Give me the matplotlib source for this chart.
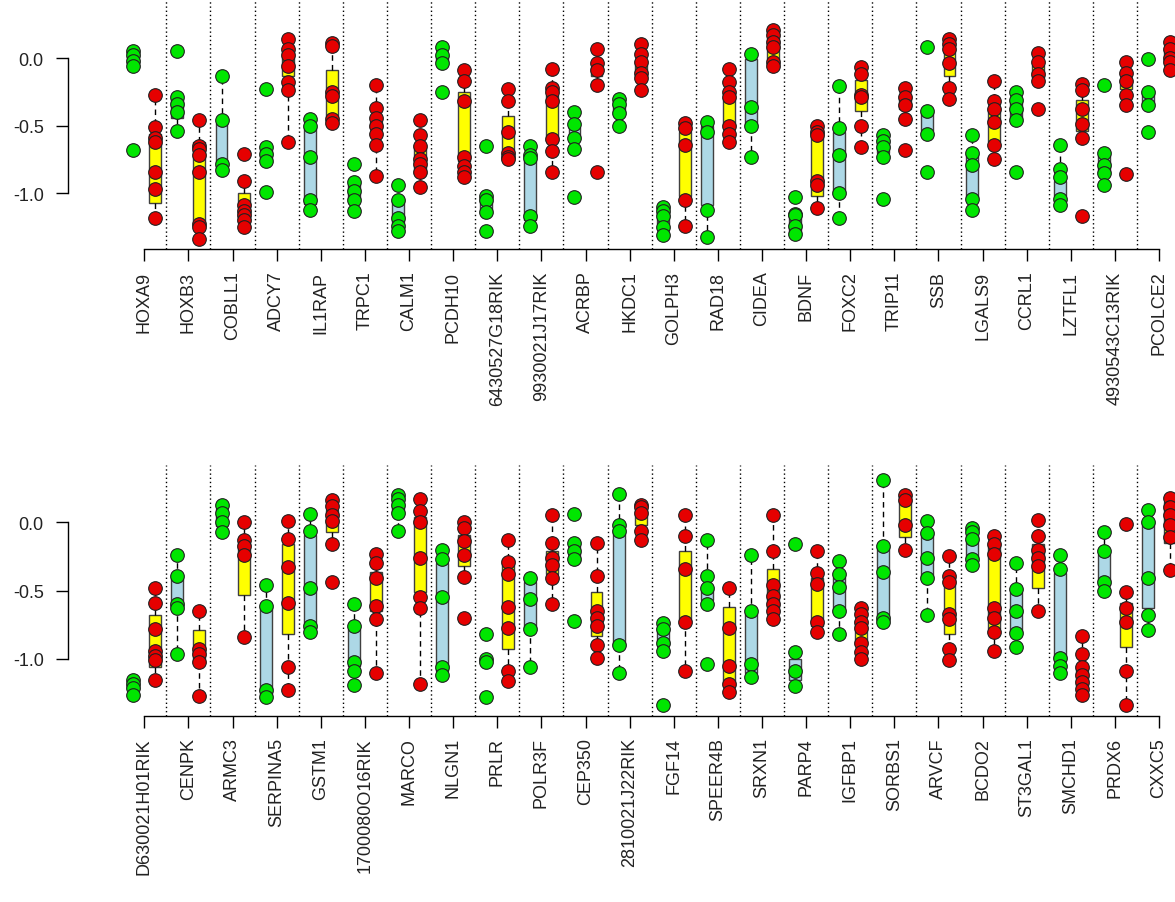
import matplotlib
matplotlib.use("Agg")
import matplotlib.pyplot as plt
import numpy as np

plt.rcParams['font.family'] = ['Liberation Sans', 'DejaVu Sans']

# ---------------- upper panel ----------------
genes_top = ["HOXA9", "HOXB3", "COBLL1", "ADCY7", "IL1RAP", "TRPC1", "CALM1", "PCDH10",
             "6430527G18RIK", "9930021J17RIK", "ACRBP", "HKDC1", "GOLPH3", "RAD18", "CIDEA",
             "BDNF", "FOXC2", "TRIP11", "SSB", "LGALS9", "CCRL1", "LZTFL1", "4930543C13RIK",
             "PCOLCE2"]

green_top = [
    [0.05, 0.02, -0.02, -0.06, -0.68],
    [0.05, -0.29, -0.34, -0.40, -0.54],
    [-0.13, -0.46, -0.78, -0.83],
    [-0.23, -0.66, -0.71, -0.76, -0.99],
    [-0.45, -0.50, -0.73, -1.05, -1.12],
    [-0.78, -0.92, -0.98, -1.05, -1.13],
    [-0.94, -1.05, -1.18, -1.24, -1.28],
    [0.08, 0.02, -0.04, -0.25],
    [-0.65, -1.02, -1.05, -1.14, -1.28],
    [-0.65, -0.72, -0.74, -1.17, -1.24],
    [-0.40, -0.49, -0.59, -0.67, -1.03],
    [-0.30, -0.34, -0.41, -0.50],
    [-1.10, -1.13, -1.17, -1.25, -1.31],
    [-0.47, -0.55, -1.12, -1.32],
    [0.03, -0.36, -0.50, -0.73],
    [-1.03, -1.15, -1.16, -1.24, -1.30],
    [-0.21, -0.52, -0.72, -1.00, -1.18],
    [-0.57, -0.61, -0.66, -0.73, -1.04],
    [0.08, -0.39, -0.56, -0.84],
    [-0.57, -0.70, -0.79, -1.04, -1.12],
    [-0.25, -0.31, -0.38, -0.46, -0.84],
    [-0.64, -0.82, -0.88, -1.04, -1.09],
    [-0.20, -0.70, -0.79, -0.85, -0.94],
    [-0.01, -0.25, -0.35, -0.55],
]
# (box low, box high, whisker low, whisker high)
green_top_box = [
    (-0.04, 0.02, -0.06, 0.05), (-0.44, -0.30, -0.54, -0.29), (-0.82, -0.48, -0.83, -0.13),
    (-0.75, -0.68, -0.76, -0.66), (-1.08, -0.50, -1.12, -0.45), (-1.04, -0.93, -1.05, -0.92),
    (-1.24, -1.05, -1.28, -0.94), (-0.03, 0.02, -0.04, 0.02), (-1.12, -1.03, -1.14, -1.02),
    (-1.20, -0.74, -1.24, -0.65), (-0.60, -0.51, -0.67, -0.40), (-0.40, -0.34, -0.41, -0.34),
    (-1.23, -1.14, -1.25, -1.13), (-1.09, -0.50, -1.32, -0.47), (-0.50, -0.01, -0.73, 0.03),
    (-1.29, -1.17, -1.30, -1.15), (-0.99, -0.55, -1.18, -0.21), (-0.70, -0.60, -0.73, -0.57),
    (-0.54, -0.40, -0.56, -0.39), (-1.03, -0.70, -1.12, -0.57), (-0.44, -0.31, -0.46, -0.25),
    (-1.02, -0.91, -1.09, -0.64), (-0.85, -0.72, -0.94, -0.70), (-0.34, -0.26, -0.35, -0.25),
]

red_top = [
    [-0.27, -0.51, -0.59, -0.62, -0.84, -0.97, -1.18],
    [-0.46, -0.65, -0.67, -0.72, -0.84, -1.23, -1.25, -1.34],
    [-0.71, -0.91, -1.09, -1.13, -1.16, -1.20, -1.25],
    [0.14, 0.07, 0.02, -0.06, -0.18, -0.24, -0.62],
    [0.11, 0.09, -0.25, -0.28, -0.45, -0.48],
    [-0.20, -0.37, -0.44, -0.50, -0.56, -0.64, -0.87],
    [-0.46, -0.57, -0.65, -0.75, -0.78, -0.84, -0.95],
    [-0.09, -0.17, -0.32, -0.73, -0.80, -0.84, -0.88],
    [-0.23, -0.32, -0.55, -0.70, -0.73, -0.75],
    [-0.08, -0.22, -0.25, -0.32, -0.60, -0.69, -0.84],
    [0.07, -0.04, -0.09, -0.20, -0.84],
    [0.10, 0.03, -0.03, -0.11, -0.15, -0.24],
    [-0.48, -0.52, -0.64, -1.05, -1.24],
    [-0.08, -0.18, -0.25, -0.29, -0.50, -0.56, -0.62],
    [0.21, 0.17, 0.12, 0.08, -0.03, -0.06],
    [-0.50, -0.55, -0.57, -0.91, -0.94, -1.11],
    [-0.07, -0.12, -0.27, -0.29, -0.50, -0.66],
    [-0.22, -0.29, -0.35, -0.45, -0.68],
    [0.14, 0.10, 0.07, -0.04, -0.22, -0.30],
    [-0.17, -0.32, -0.38, -0.47, -0.64, -0.75],
    [0.04, -0.03, -0.12, -0.17, -0.38],
    [-0.19, -0.24, -0.38, -0.49, -0.59, -1.17],
    [-0.03, -0.11, -0.17, -0.27, -0.35, -0.86],
    [0.12, 0.07, 0.00, -0.03, -0.09],
]
red_top_box = [
    (-1.07, -0.56, -1.18, -0.27), (-1.24, -0.62, -1.34, -0.46), (-1.21, -1.00, -1.25, -0.91),
    (-0.13, 0.07, -0.62, 0.14), (-0.44, -0.09, -0.48, 0.11), (-0.52, -0.47, -0.87, -0.20),
    (-0.86, -0.65, -0.95, -0.46), (-0.76, -0.25, -0.88, -0.09), (-0.72, -0.43, -0.75, -0.23),
    (-0.61, -0.27, -0.84, -0.08), (-0.13, -0.07, -0.20, 0.07), (-0.14, -0.02, -0.24, 0.10),
    (-1.02, -0.55, -1.24, -0.48), (-0.50, -0.29, -0.62, -0.08), (-0.02, 0.15, -0.06, 0.21),
    (-1.02, -0.52, -1.11, -0.50), (-0.39, -0.16, -0.66, -0.07), (-0.38, -0.28, -0.45, -0.22),
    (-0.13, 0.07, -0.30, 0.14), (-0.62, -0.38, -0.75, -0.17), (-0.15, -0.05, -0.17, 0.04),
    (-0.54, -0.31, -0.59, -0.19), (-0.23, -0.19, -0.35, -0.03), (-0.03, 0.07, -0.09, 0.12),
]

# ---------------- lower panel ----------------
genes_bot = ["D630021H01RIK", "CENPK", "ARMC3", "SERPINA5", "GSTM1", "1700080O16RIK", "MARCO",
             "NLGN1", "PRLR", "POLR3F", "CEP350", "2810021J22RIK", "FGF14", "SPEER4B", "SRXN1",
             "PARP4", "IGFBP1", "SORBS1", "ARVCF", "BCDO2", "ST3GAL1", "SMCHD1", "PRDX6", "CXXC5"]

green_bot = [
    [-1.15, -1.18, -1.21, -1.26],
    [-0.24, -0.39, -0.60, -0.63, -0.96],
    [0.13, 0.07, 0.00, -0.07],
    [-0.46, -0.61, -1.23, -1.28],
    [0.06, -0.06, -0.48, -0.76, -0.80],
    [-0.60, -0.76, -1.02, -1.09, -1.19],
    [0.20, 0.17, 0.13, 0.07, -0.06],
    [-0.20, -0.27, -0.55, -1.06, -1.12],
    [-0.82, -1.00, -1.02, -1.28],
    [-0.41, -0.56, -0.78, -1.06],
    [0.06, -0.15, -0.21, -0.27, -0.72],
    [0.21, -0.02, -0.06, -0.90, -1.10],
    [-0.74, -0.78, -0.88, -0.94, -1.34],
    [-0.13, -0.39, -0.48, -0.60, -1.04],
    [-0.24, -0.65, -1.04, -1.13],
    [-0.16, -0.95, -1.09, -1.20],
    [-0.28, -0.38, -0.47, -0.65, -0.82],
    [0.31, -0.17, -0.36, -0.70, -0.73],
    [0.01, -0.08, -0.26, -0.41, -0.68],
    [-0.04, -0.07, -0.12, -0.27, -0.31],
    [-0.30, -0.49, -0.65, -0.81, -0.91],
    [-0.24, -0.34, -0.99, -1.05, -1.10],
    [-0.07, -0.21, -0.44, -0.50],
    [0.09, 0.00, -0.41, -0.68, -0.79],
]
green_bot_box = [
    (-1.22, -1.17, -1.26, -1.15), (-0.61, -0.41, -0.96, -0.24), (-0.03, 0.10, -0.07, 0.13),
    (-1.26, -0.62, -1.28, -0.46), (-0.78, -0.09, -0.80, 0.06), (-1.05, -0.78, -1.19, -0.60),
    (0.07, 0.17, -0.06, 0.20), (-1.09, -0.30, -1.12, -0.20), (-1.02, -1.00, -1.02, -1.00),
    (-0.77, -0.44, -1.06, -0.41), (-0.29, -0.17, -0.29, -0.15), (-0.90, -0.05, -1.10, 0.21),
    (-0.90, -0.77, -0.94, -0.74), (-0.57, -0.48, -0.60, -0.13), (-1.10, -0.66, -1.13, -0.24),
    (-1.15, -1.00, -1.20, -0.95), (-0.65, -0.40, -0.82, -0.28), (-0.72, -0.17, -0.73, 0.31),
    (-0.41, -0.08, -0.68, 0.01), (-0.28, -0.09, -0.31, -0.04), (-0.80, -0.51, -0.91, -0.30),
    (-1.00, -0.37, -1.10, -0.24), (-0.46, -0.23, -0.50, -0.07), (-0.63, 0.00, -0.79, 0.09),
]

red_bot = [
    [-0.48, -0.59, -0.78, -0.94, -0.98, -1.01, -1.15],
    [-0.65, -0.93, -0.96, -1.02, -1.27],
    [0.00, -0.13, -0.17, -0.24, -0.84],
    [0.01, -0.12, -0.33, -0.59, -1.06, -1.23],
    [0.16, 0.12, 0.05, 0.01, -0.16, -0.44],
    [-0.23, -0.30, -0.41, -0.61, -0.71, -1.10],
    [0.17, 0.08, 0.00, -0.26, -0.55, -0.63, -1.18],
    [0.00, -0.04, -0.14, -0.24, -0.40, -0.70],
    [-0.13, -0.29, -0.38, -0.62, -0.77, -1.09, -1.16],
    [0.05, -0.15, -0.26, -0.31, -0.41, -0.60],
    [-0.15, -0.39, -0.65, -0.70, -0.76, -0.90, -0.99],
    [0.13, 0.11, 0.07, -0.06, -0.13],
    [0.05, -0.10, -0.34, -0.73, -1.09],
    [-0.48, -0.77, -1.05, -1.18, -1.24],
    [0.05, -0.21, -0.46, -0.54, -0.60, -0.65, -0.71],
    [-0.21, -0.37, -0.45, -0.73, -0.80],
    [-0.63, -0.67, -0.73, -0.77, -0.88, -0.95, -1.00],
    [0.20, 0.16, -0.02, -0.20],
    [-0.25, -0.39, -0.44, -0.67, -0.71, -0.93, -1.01],
    [-0.10, -0.16, -0.23, -0.63, -0.70, -0.80, -0.94],
    [0.02, -0.10, -0.20, -0.26, -0.32, -0.65],
    [-0.83, -0.96, -1.06, -1.12, -1.17, -1.22, -1.26],
    [-0.01, -0.51, -0.63, -0.73, -1.09, -1.34],
    [0.18, 0.11, 0.05, -0.02, -0.11, -0.35],
]
red_bot_box = [
    (-1.06, -0.68, -1.15, -0.48), (-1.03, -0.79, -1.27, -0.65), (-0.53, -0.15, -0.84, 0.00),
    (-0.82, -0.16, -1.23, 0.01), (-0.07, 0.09, -0.16, 0.16), (-0.65, -0.36, -1.10, -0.23),
    (-0.51, 0.04, -1.18, 0.17), (-0.32, -0.09, -0.40, 0.00), (-0.93, -0.27, -1.16, -0.13),
    (-0.38, -0.21, -0.60, 0.05), (-0.83, -0.51, -0.99, -0.15), (-0.02, 0.09, -0.13, 0.13),
    (-0.72, -0.21, -1.09, 0.05), (-1.20, -0.62, -1.24, -0.48), (-0.65, -0.34, -0.71, 0.05),
    (-0.76, -0.41, -0.80, -0.21), (-0.90, -0.72, -1.00, -0.63), (-0.11, 0.16, -0.20, 0.20),
    (-0.82, -0.40, -1.01, -0.25), (-0.78, -0.16, -0.94, -0.10), (-0.48, -0.16, -0.65, 0.02),
    (-1.20, -1.05, -1.26, -0.83), (-0.91, -0.59, -1.34, -0.51), (-0.15, 0.15, -0.35, 0.18),
]

y_ticks = [0.0, -0.5, -1.0]
y_tick_labels = ["0.0", "-0.5", "-1.0"]

GREEN = "#00e600"
RED = "#e60000"
BLUE_BOX = "#add8e6"
YELLOW_BOX = "#ffff00"

W, H = 1175, 903
fig = plt.figure(figsize=(W / 100, H / 100), dpi=100)
fig.patch.set_facecolor("white")

UNIT = 22.06          # pixels per box slot
TICK0 = 144.3         # pixel of the first gene label position (slot 1.5)
AX_LEFT = 68


def add_panel(top_px, bottom_px, zero_px, px_per_unit):
    ax = fig.add_axes([AX_LEFT / W, 1 - bottom_px / H, (W - AX_LEFT) / W,
                       (bottom_px - top_px) / H])
    x0 = 1.5 + (AX_LEFT - TICK0) / UNIT
    x1 = 1.5 + (W - TICK0) / UNIT
    ax.set_xlim(x0, x1)
    ax.set_ylim(-(bottom_px - zero_px) / px_per_unit, (zero_px - top_px) / px_per_unit)
    return ax


def draw_panel(ax, genes, green, red, green_box, red_box):
    n = len(genes)
    green_pos = [2 * i + 1 for i in range(n)]
    red_pos = [2 * i + 2 for i in range(n)]

    # dotted separators between genes
    for i in range(n):
        ax.axvline(2 * i + 2.5, color="black", linestyle=(0, (1, 2)), linewidth=1.0, zorder=1)

    def stats(boxes):
        out = []
        for lo, hi, wlo, whi in boxes:
            out.append(dict(med=lo, q1=lo, q3=hi, whislo=wlo, whishi=whi))
        return out

    common = dict(widths=0.54, patch_artist=True, showfliers=False, showcaps=False,
                  medianprops=dict(linewidth=0),
                  whiskerprops=dict(color="black", linestyle=(0, (4, 3)), linewidth=1.0),
                  manage_ticks=False, zorder=2)
    ax.bxp(stats(green_box), positions=green_pos,
           boxprops=dict(facecolor=BLUE_BOX, edgecolor="#404040", linewidth=1.0), **common)
    ax.bxp(stats(red_box), positions=red_pos,
           boxprops=dict(facecolor=YELLOW_BOX, edgecolor="#404040", linewidth=1.0), **common)

    for p, vals in zip(green_pos, green):
        ax.scatter(np.full(len(vals), p), vals, s=96, c=GREEN, edgecolors="#202020",
                   linewidths=0.8, zorder=3, clip_on=False)
    for p, vals in zip(red_pos, red):
        ax.scatter(np.full(len(vals), p), vals, s=96, c=RED, edgecolors="#202020",
                   linewidths=0.8, zorder=3, clip_on=False)

    for s in ("top", "right"):
        ax.spines[s].set_visible(False)
    ax.spines["left"].set_bounds(-1.0, 0.0)
    ax.spines["bottom"].set_bounds(1.5, 2 * n - 0.5)
    for s in ("left", "bottom"):
        ax.spines[s].set_linewidth(1.0)

    ax.set_yticks(y_ticks)
    ax.set_yticklabels(y_tick_labels)
    ax.set_xticks([2 * i + 1.5 for i in range(n)])
    ax.set_xticklabels(genes, rotation=90, va="top", ha="center")
    ax.tick_params(axis="both", direction="out", length=8.5, width=1.0, colors="black",
                   labelsize=13, labelcolor="#222222")
    ax.tick_params(axis="y", pad=9)
    ax.tick_params(axis="x", pad=7)
    ax.set_facecolor("none")


ax_top = add_panel(0, 250, 59, 135.3)
draw_panel(ax_top, genes_top, green_top, red_top, green_top_box, red_top_box)

ax_bot = add_panel(466, 716.7, 523.3, 136.7)
draw_panel(ax_bot, genes_bot, green_bot, red_bot, green_bot_box, red_bot_box)

fig.savefig("out.png", dpi=100, facecolor="white")
